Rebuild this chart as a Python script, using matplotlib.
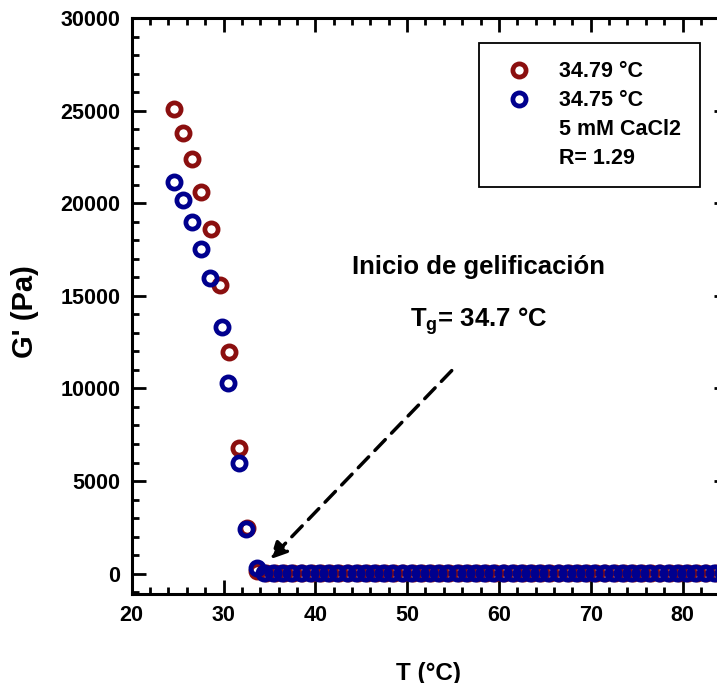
import matplotlib
matplotlib.use("Agg")
import matplotlib.pyplot as plt
from matplotlib.lines import Line2D
from matplotlib.ticker import MultipleLocator

plt.rcParams['font.family'] = ['Liberation Sans', 'DejaVu Sans']
plt.rcParams['font.weight'] = 'bold'
plt.rcParams['mathtext.fontset'] = 'custom'
plt.rcParams['mathtext.rm'] = 'Liberation Sans:bold'

# Datos (T en °C, G' en Pa)
T_rojo = [24.6, 25.6, 26.6, 27.6, 28.6, 29.6, 30.6, 31.7, 32.6, 33.6, 34.6,
          35.6, 36.6, 37.6, 38.6, 39.6, 40.6, 41.6, 42.6, 43.6, 44.6,
          45.6, 46.6, 47.6, 48.6, 49.6, 50.6, 51.6, 52.6, 53.6, 54.6,
          55.6, 56.6, 57.6, 58.6, 59.6, 60.6, 61.6, 62.6, 63.6, 64.6,
          65.6, 66.6, 67.6, 68.6, 69.6, 70.6, 71.6, 72.6, 73.6, 74.6,
          75.6, 76.6, 77.6, 78.6, 79.6, 80.6, 81.6, 82.6, 83.6, 84.6]
G_rojo = [25070, 23800, 22380, 20610, 18610, 15600, 11950, 6810, 2480, 150, 40,
          60, 50, 60, 55, 60, 50, 60, 55, 60, 50,
          60, 55, 60, 50, 60, 55, 60, 50, 60, 55,
          60, 50, 60, 55, 60, 50, 60, 55, 60, 50,
          60, 55, 60, 50, 60, 55, 60, 50, 60, 55,
          60, 50, 60, 55, 60, 50, 60, 55, 60, 50]

T_azul = [24.6, 25.6, 26.6, 27.6, 28.5, 29.8, 30.5, 31.7, 32.5, 33.6, 34.4,
          35.4, 36.4, 37.4, 38.4, 39.4, 40.4, 41.4, 42.4, 43.4, 44.4,
          45.4, 46.4, 47.4, 48.4, 49.4, 50.4, 51.4, 52.4, 53.4, 54.4,
          55.4, 56.4, 57.4, 58.4, 59.4, 60.4, 61.4, 62.4, 63.4, 64.4,
          65.4, 66.4, 67.4, 68.4, 69.4, 70.4, 71.4, 72.4, 73.4, 74.4,
          75.4, 76.4, 77.4, 78.4, 79.4, 80.4, 81.4, 82.4, 83.4, 84.4]
G_azul = [21150, 20150, 18990, 17550, 15980, 13310, 10300, 5970, 2430, 320, 60,
          50, 60, 55, 60, 50, 60, 55, 60, 50, 60,
          55, 60, 50, 60, 55, 60, 50, 60, 55, 60,
          50, 60, 55, 60, 50, 60, 55, 60, 50, 60,
          55, 60, 50, 60, 55, 60, 50, 60, 55, 60,
          50, 60, 55, 60, 50, 60, 55, 60, 50, 60]

etiquetas = ['34.79 °C', '34.75 °C', '5 mM CaCl2', 'R= 1.29']
rojo = '#8b0f0f'
azul = '#00008e'

fig = plt.figure(figsize=(7.17, 6.83), dpi=100)
ax = fig.add_axes([0.1837, 0.1303, 0.8322, 0.8433])

l1, = ax.plot(T_rojo, G_rojo, 'o', mfc='none', mec=rojo, ms=9.5, mew=3.4)
l2, = ax.plot(T_azul, G_azul, 'o', mfc='none', mec=azul, ms=9.5, mew=3.4)

ax.set_xlim(20, 85)
ax.set_ylim(-1100, 30000)
ax.xaxis.set_major_locator(MultipleLocator(10))
ax.xaxis.set_minor_locator(MultipleLocator(2))
ax.yaxis.set_major_locator(MultipleLocator(5000))
ax.yaxis.set_minor_locator(MultipleLocator(1000))
ax.tick_params(which='both', direction='in', top=True, right=True, width=2)
ax.tick_params(which='major', length=10)
ax.tick_params(which='minor', length=5)
ax.tick_params(axis='x', labelsize=15.5, pad=8)
ax.tick_params(axis='y', labelsize=15.5, pad=8)
for s in ax.spines.values():
    s.set_linewidth(2.2)

ax.set_xlabel('T (°C)', fontsize=17.5, fontweight='bold')
ax.set_ylabel("G' (Pa)", fontsize=21, fontweight='bold')
ax.xaxis.set_label_coords(0.497, -0.118)
ax.yaxis.set_label_coords(-0.155, 0.49)

vacio = Line2D([], [], linestyle='none')
leg = ax.legend([l1, l2, vacio, vacio], etiquetas, loc='upper right',
                bbox_to_anchor=(0.952, 0.957), borderaxespad=0, fancybox=False,
                edgecolor='black', framealpha=1, fontsize=15.5, borderpad=0.85,
                handlelength=2.0, handletextpad=0.9, labelspacing=0.37)
leg.get_frame().set_linewidth(1.3)

ax.text(57.8, 16537, 'Inicio de gelificación', fontsize=18.5, fontweight='bold',
        ha='center', va='center')
ax.text(57.8, 13668, r'T$_{\mathrm{g}}$= 34.7 °C', fontsize=18.5, fontweight='bold',
        ha='center', va='center')
ax.annotate('', xy=(35.07, 774), xytext=(54.86, 10963),
            arrowprops=dict(arrowstyle='-|>', color='black', lw=2.5,
                            linestyle=(0, (4.3, 2.6)), mutation_scale=25,
                            shrinkA=0, shrinkB=0))

fig.savefig('out.png', dpi=100)
